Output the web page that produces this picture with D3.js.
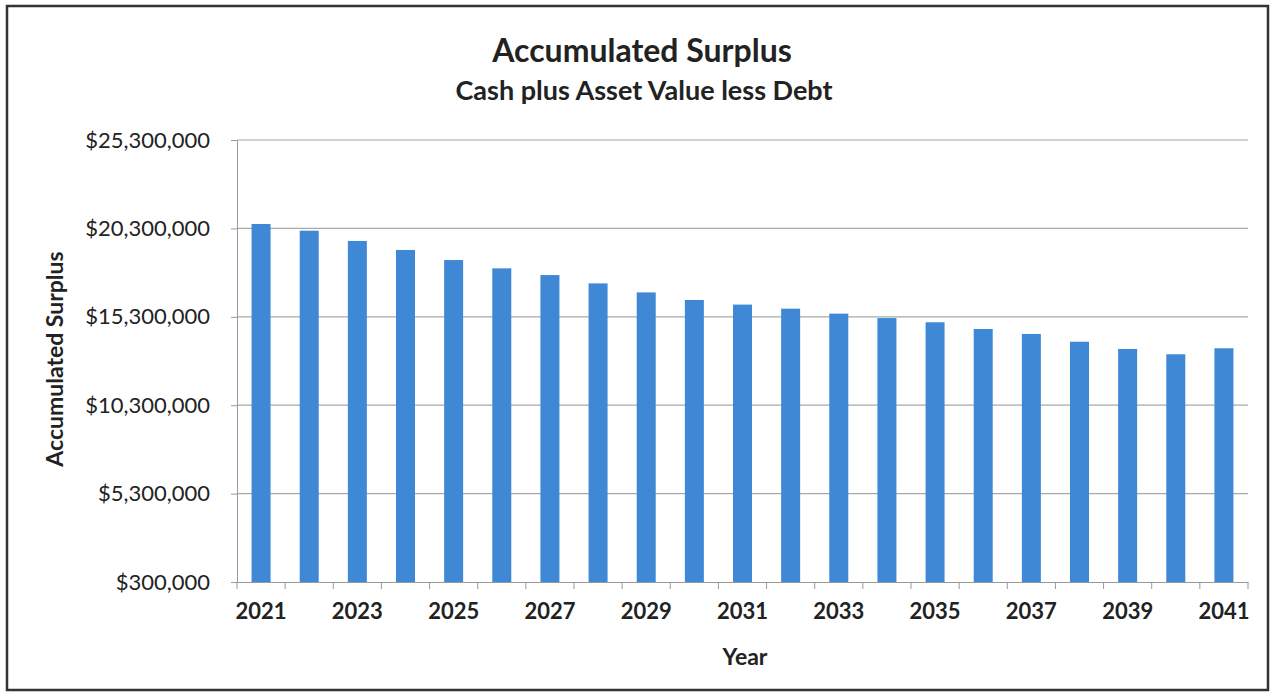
<!DOCTYPE html>
<html><head><meta charset="utf-8">
<script src="https://cdn.jsdelivr.net/npm/d3@7"></script>
<style>body{margin:0;background:#fff;} svg{display:block;}</style>
</head><body>
<script>
const years = [2021,2022,2023,2024,2025,2026,2027,2028,2029,2030,2031,2032,2033,2034,2035,2036,2037,2038,2039,2040,2041];
const surplus = [20550000,20170000,19590000,19080000,18510000,18040000,17660000,17190000,16680000,16250000,15990000,15760000,15480000,15230000,14990000,14610000,14330000,13890000,13480000,13180000,13520000];
const yTicks = [300000,5300000,10300000,15300000,20300000,25300000];
const xLabels = [2021,2023,2025,2027,2029,2031,2033,2035,2037,2039,2041];
const title = "Accumulated Surplus";
const subtitle = "Cash plus Asset Value less Debt";
const xTitle = "Year";
const yTitle = "Accumulated Surplus";

const W = 1275, H = 700;
const font = "Lato, 'Open Sans', sans-serif";
const svg = d3.select("body").append("svg").attr("width", W).attr("height", H);

// frame
svg.append("rect").attr("x",7).attr("y",6).attr("width",1261).attr("height",684)
  .attr("fill","#fff").attr("stroke","#333").attr("stroke-width",2.5);

const m = {l:237, r:1248, t:140, b:582};
const xb = d3.scaleBand().domain(years).range([m.l, m.r]);
const y = d3.scaleLinear().domain([300000, 25300000]).range([m.b, m.t]);

// gridlines
svg.append("g").selectAll("line").data(yTicks.slice(1)).join("line")
  .attr("x1", m.l).attr("x2", m.r).attr("y1", d=>y(d)).attr("y2", d=>y(d))
  .attr("stroke","#a8a8a8").attr("stroke-width",1.2);

// bars
svg.append("g").selectAll("rect").data(years).join("rect")
  .attr("x", (d,i)=> xb(d) + xb.bandwidth()/2 - 9.5)
  .attr("width", 19)
  .attr("y", (d,i)=> y(surplus[i]))
  .attr("height", (d,i)=> y(300000) - y(surplus[i]))
  .attr("fill","#3F88D5");

// y axis
const yAxis = d3.axisLeft(y).tickValues(yTicks).tickSize(6).tickPadding(21)
  .tickFormat(d => "$" + d3.format(",")(d));
const gy = svg.append("g").attr("transform",`translate(${m.l},0)`).call(yAxis);
gy.select(".domain").attr("stroke","#999");
gy.selectAll(".tick line").attr("stroke","#999");
gy.selectAll("text").attr("font-family",font).attr("font-size",22).attr("fill","#222");

// x axis
const xAxis = d3.axisBottom(xb).tickSize(0).tickFormat(d => xLabels.includes(d) ? d : "");
const gx = svg.append("g").attr("transform",`translate(0,${m.b})`).call(xAxis);
gx.select(".domain").attr("stroke","#999");
gx.selectAll("text").attr("font-family",font).attr("font-size",22).attr("font-weight","bold")
  .attr("fill","#222").attr("dy","1.55em");
// boundary ticks
svg.append("g").selectAll("line").data(years.concat(["end"])).join("line")
  .attr("x1", d=> d==="end" ? m.r : xb(d)).attr("x2", d=> d==="end" ? m.r : xb(d))
  .attr("y1", m.b).attr("y2", m.b+7).attr("stroke","#999");

// titles
svg.append("text").attr("x",642).attr("y",62).attr("text-anchor","middle")
  .attr("font-family",font).attr("font-size",32).attr("font-weight","bold").attr("fill","#222").text(title);
svg.append("text").attr("x",644).attr("y",100).attr("text-anchor","middle")
  .attr("font-family",font).attr("font-size",27).attr("font-weight","bold").attr("fill","#222").text(subtitle);
svg.append("text").attr("x",745).attr("y",665).attr("text-anchor","middle")
  .attr("font-family",font).attr("font-size",23).attr("font-weight","bold").attr("fill","#222").text(xTitle);
svg.append("text").attr("transform","translate(63,359) rotate(-90)").attr("text-anchor","middle")
  .attr("font-family",font).attr("font-size",23).attr("font-weight","bold").attr("fill","#222").text(yTitle);
</script>
</body></html>
